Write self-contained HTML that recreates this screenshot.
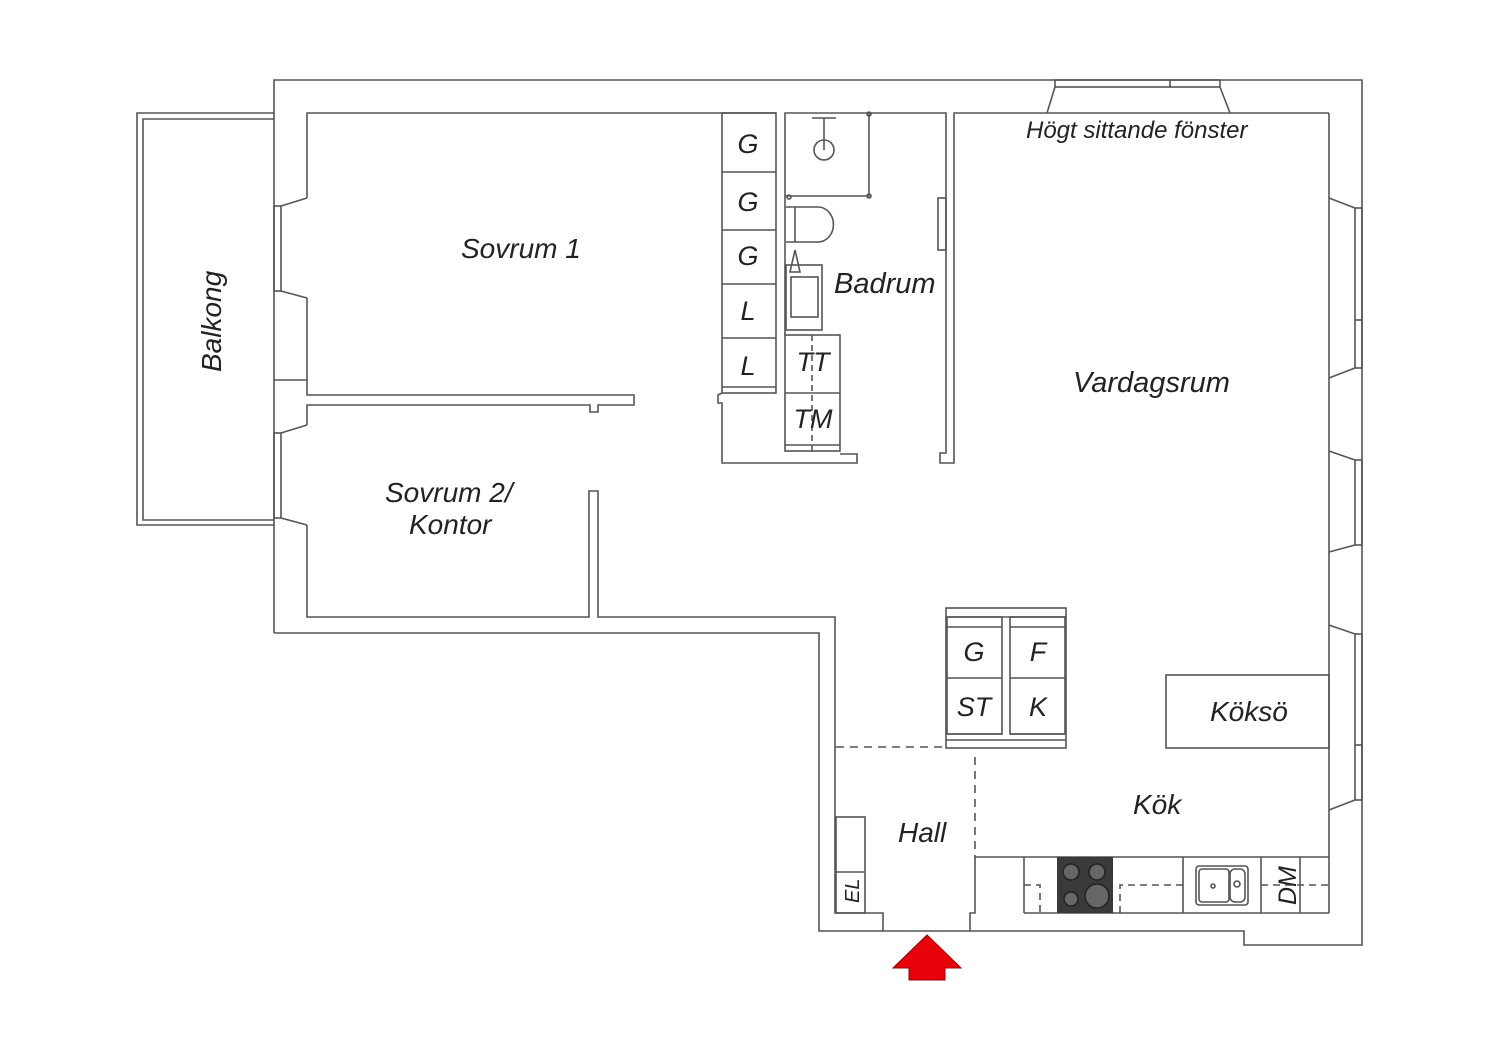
<!DOCTYPE html>
<html><head><meta charset="utf-8"><style>
html,body{margin:0;padding:0;background:#fff;}
svg{display:block;}
text{font-family:"Liberation Sans",sans-serif;font-style:italic;fill:#222;}
</style></head><body>
<svg width="1500" height="1060" viewBox="0 0 1500 1060" xmlns="http://www.w3.org/2000/svg">
<g fill="none" stroke="#555" stroke-width="1.6">
<polyline points="274,633 274,80 1362,80 1362,945 1244,945 1244,931 819,931 819,633 274,633"/>
<polyline points="274,113 137,113 137,525 274,525"/>
<polyline points="274,119 143,119 143,520 274,520"/>
<polyline points="307,198 307,113 776,113"/>
<polyline points="307,298 307,380 274,380"/>
<line x1="307" y1="198" x2="281" y2="206"/><line x1="307" y1="298" x2="281" y2="291"/>
<rect x="274" y="206" width="7" height="85"/>
<line x1="307" y1="425" x2="281" y2="433"/><line x1="307" y1="525" x2="281" y2="518"/>
<rect x="274" y="433" width="7" height="85"/>
<polyline points="307,380 307,395 634,395 634,405 598,405 598,412 590,412 590,405 307,405 307,425"/>
<polyline points="307,525 307,617 589,617 589,491 598,491 598,617 835,617 835,913 883,913 883,931"/>
<rect x="722" y="113" width="54" height="280"/>
<line x1="722" y1="172" x2="776" y2="172"/><line x1="722" y1="230" x2="776" y2="230"/>
<line x1="722" y1="284" x2="776" y2="284"/><line x1="722" y1="338" x2="776" y2="338"/>
<line x1="722" y1="387" x2="776" y2="387"/>
<polyline points="722,393 718,395 718,403 722,403 722,463 857,463 857,454 840,454"/>
<polyline points="785,335 785,113 946,113 946,453 940,453 940,463 954,463 954,113 1329,113"/>
<rect x="785" y="335" width="55" height="116"/>
<line x1="785" y1="393" x2="840" y2="393"/><line x1="785" y1="445" x2="840" y2="445"/>
<line x1="812" y1="335" x2="812" y2="451" stroke-dasharray="6,4"/>
<polyline points="869,113 869,196 785,196"/>
<circle cx="824" cy="150" r="10"/><line x1="824" y1="118" x2="824" y2="150"/><line x1="812" y1="118" x2="836" y2="118"/>
<circle cx="869" cy="196" r="2"/><circle cx="869" cy="114" r="2"/><circle cx="789" cy="197" r="2"/>
<path d="M786,207 H818 A15,17 0 0 1 818,242 H786"/><line x1="795" y1="207" x2="795" y2="242"/>
<rect x="786" y="265" width="36" height="65"/><rect x="791" y="277" width="27" height="40"/>
<path d="M790,272 L795,250 L800,272 Z"/>
<rect x="938" y="198" width="8" height="52"/>
<rect x="1055" y="80" width="165" height="7"/><line x1="1170" y1="80" x2="1170" y2="87"/>
<line x1="1055" y1="87" x2="1047" y2="113"/><line x1="1220" y1="87" x2="1230" y2="113"/>
<line x1="1329" y1="113" x2="1329" y2="913"/>
<line x1="1329" y1="198" x2="1355" y2="208"/><line x1="1329" y1="378" x2="1355" y2="368"/>
<rect x="1355" y="208" width="7" height="160"/><line x1="1355" y1="320" x2="1362" y2="320"/>
<line x1="1329" y1="451" x2="1355" y2="460"/><line x1="1329" y1="552" x2="1355" y2="545"/>
<rect x="1355" y="460" width="7" height="85"/>
<line x1="1329" y1="625" x2="1355" y2="634"/><line x1="1329" y1="810" x2="1355" y2="800"/>
<rect x="1355" y="634" width="7" height="166"/><line x1="1355" y1="745" x2="1362" y2="745"/>
<rect x="946" y="608" width="120" height="140"/>
<line x1="946" y1="617" x2="1066" y2="617"/><line x1="946" y1="740" x2="1066" y2="740"/>
<rect x="947" y="617" width="55" height="117"/><rect x="1010" y="617" width="55" height="117"/>
<line x1="946" y1="678" x2="1002" y2="678"/><line x1="1010" y1="678" x2="1066" y2="678"/>
<line x1="946" y1="627" x2="1002" y2="627"/><line x1="1010" y1="627" x2="1066" y2="627"/>
<line x1="946" y1="734" x2="1002" y2="734"/><line x1="1010" y1="734" x2="1066" y2="734"/>
<rect x="1166" y="675" width="163" height="73"/>
<line x1="836" y1="747" x2="946" y2="747" stroke-dasharray="8,6"/>
<line x1="975" y1="757" x2="975" y2="857" stroke-dasharray="8,6"/>
<rect x="836" y="817" width="29" height="96"/><line x1="836" y1="872" x2="865" y2="872"/>
<polyline points="970,931 970,913 975,913 975,857 1329,857"/>
<line x1="1024" y1="857" x2="1024" y2="913"/><line x1="1024" y1="913" x2="1329" y2="913"/>
<line x1="1183" y1="857" x2="1183" y2="913"/><line x1="1261" y1="857" x2="1261" y2="913"/><line x1="1300" y1="857" x2="1300" y2="913"/>
<polyline points="1024,885 1040,885 1040,913" stroke-dasharray="7,5"/>
<polyline points="1120,913 1120,885 1183,885" stroke-dasharray="7,5"/>
<line x1="1261" y1="885" x2="1329" y2="885" stroke-dasharray="7,5"/>
<rect x="1196" y="866" width="52" height="39" rx="3"/><rect x="1199" y="869" width="30" height="33" rx="3"/><rect x="1230" y="869" width="15" height="33" rx="5"/>
<circle cx="1213" cy="886" r="2"/><circle cx="1237" cy="884" r="3"/>
</g>
<rect x="1057" y="857" width="56" height="56" fill="#3a3a3a"/>
<g fill="#666" stroke="#222" stroke-width="1.5">
<circle cx="1071" cy="872" r="8"/><circle cx="1097" cy="872" r="8"/><circle cx="1071" cy="899" r="7"/><circle cx="1097" cy="896" r="12"/>
</g>
<polygon points="893,968 927,935 961,968 945,968 945,980 909,980 909,968" fill="#e8000a" stroke="#900" stroke-width="1"/>
<g font-size="28">
<text x="461" y="258">Sovrum 1</text>
<text x="385" y="502">Sovrum 2/</text>
<text x="409" y="534">Kontor</text>
<text x="1073" y="392" font-size="29">Vardagsrum</text>
<text x="834" y="293" font-size="29">Badrum</text>
<text x="898" y="842">Hall</text>
<text x="1133" y="814">Kök</text>
<text x="1210" y="721">Köksö</text>
<text transform="translate(221,372) rotate(-90)">Balkong</text>
</g>
<text x="1026" y="138" font-size="24">Högt sittande fönster</text>
<g font-size="27" text-anchor="middle">
<text x="748" y="153">G</text><text x="748" y="211">G</text><text x="748" y="265">G</text>
<text x="748" y="320">L</text><text x="748" y="375">L</text>
<text x="813" y="371">TT</text><text x="813" y="428">TM</text>
<text x="974" y="661">G</text><text x="1038" y="661">F</text>
<text x="974" y="716">ST</text><text x="1038" y="716">K</text>
</g>
<text transform="translate(859,903) rotate(-90)" font-size="20">EL</text>
<text transform="translate(1296,905) rotate(-90)" font-size="25">DM</text>
</svg>
</body></html>
